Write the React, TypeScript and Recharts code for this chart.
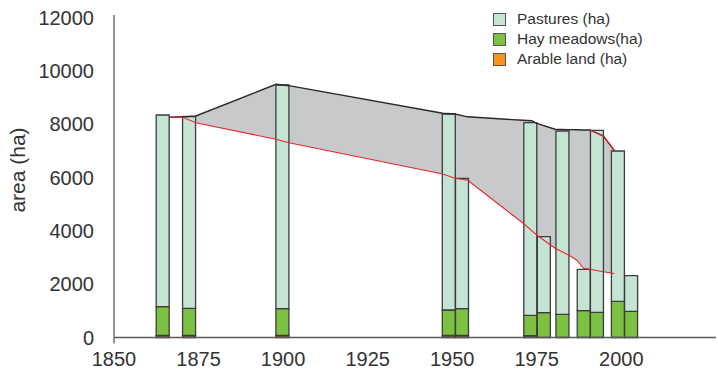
import React from 'react'
import { ComposedChart, Bar, Line, Area, XAxis, YAxis, Rectangle } from 'recharts'

// bars (years)
const barYears = [1864.4, 1872.2, 1899.8, 1949.0, 1952.9, 1973.1, 1977.1, 1982.6, 1988.9, 1992.8, 1999.0, 2002.9]
const arable = [75, 75, 75, 75, 75, 65, 0, 0, 0, 0, 0, 0]
const hay = [1081, 1021, 1006, 957, 1006, 768, 930, 870, 1006, 946, 1358, 983]
const pastures = [7192, 7188, 8393, 7354, 4892, 7227, 2852, 6878, 1553, 6828, 5640, 1336]

// grey band between the two trend lines
const envYears = [1866.4, 1870.3, 1874.2, 1897.9, 1901.7, 1947.2, 1950.8, 1954.5, 1971.0, 1973.5, 1975.0, 1980.4, 1984.4, 1986.8, 1988.8, 1990.7, 1994.7, 1998.0]
const upper = [8262, 8285, 8311, 9500, 9448, 8412, 8386, 8280, 8150, 8135, 8037, 7812, 7800, 7792, 7788, 7786, 7560, 7009]
const lower = [8262, 8262, 8059, 7436, 7309, 6134, 5973, 5905, 4285, 4010, 3846, 3347, 3095, 2908, 2596, 2560, 2469, 2400]

// short red piece on the upper edge at the end
const redTopYears = [1990.7, 1994.7, 1998.0]
const redTop = [7786, 7560, 7009]

const xTicks = [1850, 1875, 1900, 1925, 1950, 1975, 2000]
const yTicks = [0, 2000, 4000, 6000, 8000, 10000, 12000]

const legendItems = [
  { label: 'Pastures (ha)', color: '#c6e4d4' },
  { label: 'Hay meadows(ha)', color: '#7dc142' },
  { label: 'Arable land (ha)', color: '#f7941d' },
]

const barData = barYears.map((year, i) => ({
  year,
  arable: arable[i],
  hay: hay[i],
  pastures: pastures[i],
}))
const bandData = envYears.map((year, i) => ({ year, band: [lower[i], upper[i]], upper: upper[i], lower: lower[i] }))
const redTopData = redTopYears.map((year, i) => ({ year, v: redTop[i] }))

const FONT = '"Liberation Sans", Arial, sans-serif'
const AXIS = '#5a5a5a'
const BAR_STROKE = '#3c3c3c'
const BAR_W = 13

// fixed-width bar centred on the year
const BarShape = (props: any) => {
  const { x, width, y, height, fill } = props
  if (!height) return null
  const cx = x + width / 2
  return (
    <Rectangle
      x={cx - BAR_W / 2}
      y={y}
      width={BAR_W}
      height={height}
      fill={fill}
      stroke={BAR_STROKE}
      strokeWidth={1.3}
    />
  )
}

const XTick = (props: any) => {
  const { x, y, payload } = props
  return (
    <g>
      {payload.value === 1850 && <line x1={x} x2={x} y1={y - 14} y2={y - 8} stroke={AXIS} strokeWidth={1.3} />}
      <text x={x} y={y} dy="0.71em" textAnchor="middle" fill="#333" fontSize={20} fontFamily={FONT}>
        {payload.value}
      </text>
    </g>
  )
}

export default function App() {
  return (
    <div style={{ position: 'absolute', left: 0, top: 0, width: 718, height: 373, background: '#fff', fontFamily: FONT }}>
      <ComposedChart
        width={718}
        height={373}
        data={barData}
        margin={{ top: 15, right: 2, bottom: 5.5, left: 0 }}
      >
        <XAxis
          dataKey="year"
          type="number"
          domain={[1850, 2028]}
          ticks={xTicks}
          allowDataOverflow
          height={30}
          tickLine={false}
          tickSize={0}
          tickMargin={14}
          axisLine={{ stroke: AXIS, strokeWidth: 1.3 }}
          tick={<XTick />}
        />
        <YAxis
          type="number"
          domain={[0, 12100]}
          ticks={yTicks}
          width={114}
          tickLine={false}
          tickSize={0}
          tickMargin={20}
          axisLine={{ stroke: AXIS, strokeWidth: 1.3 }}
          tick={{ fontSize: 20, fill: '#333', fontFamily: FONT }}
          label={{
            content: () => (
              <text
                x={25}
                y={170}
                transform="rotate(-90 25 170)"
                textAnchor="middle"
                fill="#333"
                fontSize={21}
                fontFamily={FONT}
              >
                area (ha)
              </text>
            ),
          }}
        />
        <Area
          data={bandData}
          dataKey="band"
          type="linear"
          fill="#c8c9cb"
          fillOpacity={1}
          stroke="none"
          isAnimationActive={false}
        />
        <Line data={bandData} dataKey="upper" type="linear" stroke="#2a2a2a" strokeWidth={1.4} dot={false} isAnimationActive={false} />
        <Line data={bandData} dataKey="lower" type="linear" stroke="#e8262b" strokeWidth={1.1} dot={false} isAnimationActive={false} />
        <Line data={redTopData} dataKey="v" type="linear" stroke="#e8262b" strokeWidth={1.1} dot={false} isAnimationActive={false} />
        <Bar dataKey="arable" stackId="a" barSize={BAR_W} fill="#b8661f" shape={<BarShape />} isAnimationActive={false} />
        <Bar dataKey="hay" stackId="a" barSize={BAR_W} fill="#7dc142" shape={<BarShape />} isAnimationActive={false} />
        <Bar dataKey="pastures" stackId="a" barSize={BAR_W} fill="#c6e4d4" shape={<BarShape />} isAnimationActive={false} />
      </ComposedChart>
      <div style={{ position: 'absolute', left: 493, top: 9 }}>
        {legendItems.map((it) => (
          <div key={it.label} style={{ display: 'flex', alignItems: 'center', height: 20 }}>
            <span
              style={{
                display: 'inline-block',
                width: 11,
                height: 11,
                background: it.color,
                border: '1px solid #555',
                marginRight: 11,
              }}
            />
            <span style={{ fontSize: 15.5, color: '#333', lineHeight: '20px' }}>{it.label}</span>
          </div>
        ))}
      </div>
    </div>
  )
}
